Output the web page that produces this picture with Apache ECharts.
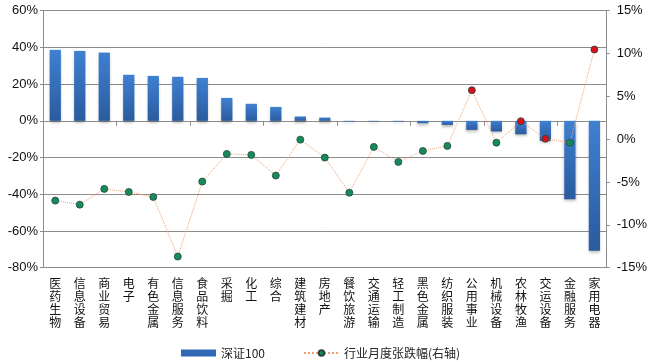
<!DOCTYPE html>
<html><head><meta charset="utf-8">
<script src="https://cdn.jsdelivr.net/npm/echarts@6/dist/echarts.min.js"></script>
<style>html,body{margin:0;padding:0;background:#fff}#c{width:650px;height:362px}</style>
</head><body><div id="c"></div>
<script>
const categories = ['医药生物','信息设备','商业贸易','电子','有色金属','信息服务','食品饮料','采掘','化工','综合','建筑建材','房地产','餐饮旅游','交通运输','轻工制造','黑色金属','纺织服装','公用事业','机械设备','农林牧渔','交运设备','金融服务','家用电器'];
const sz100 = [38.7,38.1,37.2,25.1,24.5,24.0,23.4,12.5,9.3,7.6,2.4,1.8,-0.3,-0.3,-0.3,-1.3,-2.2,-4.9,-5.8,-7.3,-10.9,-42.7,-70.8];
const industryMonthly = [-7.17,-7.64,-5.8,-6.16,-6.74,-13.7,-4.95,-1.72,-1.83,-4.25,-0.05,-2.15,-6.24,-0.9,-2.65,-1.37,-0.78,5.72,-0.4,2.1,0.05,-0.4,10.47];
const leftTicks = {min:-80, max:60, interval:20};
const rightTicks = {min:-15, max:15, interval:5};
</script>
<script>
const chart = echarts.init(document.getElementById('c'));
const numFont = 'Liberation Sans, Arial, sans-serif';
const cjkFont = 'Noto Sans CJK SC, sans-serif';
const gray = '#8c8c8c';
const light = '#3f80d2', dark = '#2a5b9e';
const grad = () => new echarts.graphic.LinearGradient(0,0,0,1,[{offset:0,color:light},{offset:1,color:dark}]);
chart.setOption({
  animation:false,
  grid:{left:43, right:42, top:10.7, bottom:94.3},
  legend:{
    top:342, left:176, itemGap:38, itemWidth:35, itemHeight:7,
    textStyle:{fontFamily:cjkFont, fontSize:12, color:'#222'},
    data:[{name:'深证100', icon:'rect', itemStyle:{color:'#2f68b4'}},{name:'行业月度张跌幅(右轴)'}]
  },
  xAxis:[{
    type:'category', data:categories, position:'bottom',
    axisLine:{onZero:false, lineStyle:{color:gray}}, axisTick:{show:false},
    axisLabel:{interval:0, margin:9, fontFamily:cjkFont, fontSize:12, lineHeight:13, color:'#111',
      verticalAlign:'top', formatter:v=>v.split('').join('\n')}
  },{
    type:'category', data:categories, position:'top',
    axisLine:{onZero:true, onZeroAxisIndex:0, lineStyle:{color:gray}},
    axisTick:{show:true, inside:true, length:5, lineStyle:{color:gray}},
    axisLabel:{show:false}
  }],
  yAxis:[{
    type:'value', min:leftTicks.min, max:leftTicks.max, interval:leftTicks.interval,
    axisLine:{show:true, lineStyle:{color:gray}}, axisTick:{show:true, length:3, lineStyle:{color:gray}},
    splitLine:{lineStyle:{color:gray}},
    axisLabel:{formatter:'{value}%', fontFamily:numFont, fontSize:13, color:'#111', margin:5}
  },{
    type:'value', min:rightTicks.min, max:rightTicks.max, interval:rightTicks.interval,
    axisLine:{show:true, lineStyle:{color:gray}}, axisTick:{show:true, length:3, lineStyle:{color:gray}},
    splitLine:{show:false},
    axisLabel:{formatter:'{value}%', fontFamily:numFont, fontSize:13, color:'#111', margin:10}
  }],
  series:[{
    name:'深证100', type:'bar', yAxisIndex:0, xAxisIndex:0, barWidth:'46%',
    data:sz100.map(v=>({value:v, itemStyle:{color: grad()}})),
    itemStyle:{shadowBlur:3, shadowColor:'rgba(0,0,0,0.3)', shadowOffsetY:2}
  },{
    name:'行业月度张跌幅(右轴)', type:'line', yAxisIndex:1, xAxisIndex:0,
    data:industryMonthly.map(v=>({value:v, itemStyle:{color: v>0 ? '#d9101c' : '#178a5c'}})),
    symbol:'circle', symbolSize:7,
    lineStyle:{color:'#f0a070', width:1, type:'dotted'},
    itemStyle:{color:'#178a5c', borderColor:'#24463a', borderWidth:0.8}
  }]
});
</script>
</body></html>
